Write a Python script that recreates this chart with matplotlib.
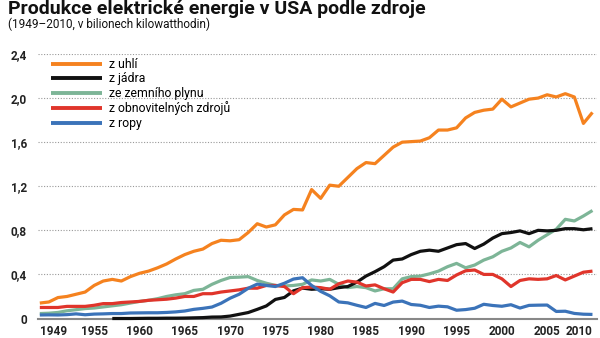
import numpy as np
import matplotlib.pyplot as plt

years = np.arange(1949, 2011)

# bilion kWh, 1949-2010
coal = [
    0.14, 0.15, 0.19, 0.20, 0.22, 0.24, 0.30, 0.34, 0.355, 0.34,
    0.38, 0.41, 0.43, 0.46, 0.495, 0.54, 0.58, 0.61, 0.63, 0.68,
    0.71, 0.705, 0.715, 0.78, 0.86, 0.83, 0.85, 0.94, 0.99, 0.985,
    1.17, 1.09, 1.21, 1.20, 1.28, 1.36, 1.415, 1.405, 1.48, 1.555,
    1.60, 1.605, 1.61, 1.64, 1.71, 1.71, 1.73, 1.82, 1.87, 1.89,
    1.90, 1.99, 1.92, 1.955, 1.99, 2.0, 2.03, 2.01, 2.04, 2.01,
    1.77, 1.87]

# jadro od 1957
nuclear = [np.nan] * 8 + [
    0.0, 0.0, 0.0, 0.001, 0.002, 0.002, 0.003, 0.003, 0.004, 0.006,
    0.008, 0.013, 0.014, 0.022, 0.038, 0.054, 0.083, 0.114, 0.173, 0.191,
    0.251, 0.276, 0.265, 0.27, 0.265, 0.28, 0.29, 0.33, 0.385, 0.425,
    0.47, 0.53, 0.54, 0.58, 0.61, 0.62, 0.61, 0.64, 0.67, 0.68,
    0.635, 0.675, 0.73, 0.77, 0.78, 0.795, 0.77, 0.80, 0.795, 0.80,
    0.815, 0.815, 0.805, 0.815]

gas = [
    0.045, 0.048, 0.055, 0.07, 0.08, 0.09, 0.095, 0.105, 0.115, 0.125,
    0.14, 0.155, 0.165, 0.18, 0.20, 0.215, 0.225, 0.255, 0.265, 0.31,
    0.345, 0.372, 0.375, 0.38, 0.345, 0.32, 0.30, 0.295, 0.30, 0.31,
    0.35, 0.34, 0.355, 0.31, 0.28, 0.29, 0.28, 0.25, 0.27, 0.27,
    0.36, 0.38, 0.385, 0.405, 0.43, 0.47, 0.50, 0.46, 0.485, 0.53,
    0.56, 0.61, 0.64, 0.69, 0.65, 0.71, 0.76, 0.81, 0.90, 0.885,
    0.93, 0.98]

renewables = [
    0.10, 0.10, 0.10, 0.11, 0.11, 0.11, 0.12, 0.135, 0.135, 0.145,
    0.15, 0.155, 0.165, 0.17, 0.175, 0.185, 0.20, 0.20, 0.225, 0.225,
    0.24, 0.25, 0.26, 0.275, 0.275, 0.30, 0.30, 0.29, 0.225, 0.28,
    0.285, 0.28, 0.265, 0.315, 0.34, 0.33, 0.295, 0.305, 0.27, 0.24,
    0.325, 0.355, 0.355, 0.335, 0.355, 0.345, 0.395, 0.433, 0.44, 0.40,
    0.40, 0.36, 0.29, 0.345, 0.36, 0.355, 0.36, 0.39, 0.35, 0.385,
    0.42, 0.43]

oil = [
    0.032, 0.033, 0.032, 0.035, 0.042, 0.034, 0.04, 0.042, 0.045, 0.045,
    0.05, 0.051, 0.052, 0.052, 0.055, 0.06, 0.068, 0.083, 0.092, 0.104,
    0.138, 0.184, 0.22, 0.274, 0.312, 0.30, 0.29, 0.32, 0.358, 0.37,
    0.30, 0.246, 0.206, 0.15, 0.142, 0.12, 0.10, 0.137, 0.118, 0.149,
    0.158, 0.127, 0.12, 0.10, 0.112, 0.106, 0.075, 0.081, 0.093, 0.129,
    0.118, 0.111, 0.125, 0.095, 0.119, 0.121, 0.122, 0.064, 0.066, 0.046,
    0.039, 0.037]

labels = ["z uhlí", "z jádra", "ze zemního plynu", "z obnovitelných zdrojů", "z ropy"]
colors = ["#F5821F", "#111111", "#7DB597", "#E0352B", "#3B73B9"]
xticks = [1949, 1955, 1960, 1965, 1970, 1975, 1980, 1985, 1990, 1995, 2000, 2005, 2010]
yticks = [0, 0.4, 0.8, 1.2, 1.6, 2.0, 2.4]
ytick_labels = ["0", "0,4", "0,8", "1,2", "1,6", "2,0", "2,4"]

plt.rcParams['font.family'] = ['Roboto', 'DejaVu Sans']

fig = plt.figure(figsize=(6, 3.38), dpi=100)
ax = fig.add_axes([38 / 600, 1 - 318.5 / 338, 559 / 600, 264.5 / 338])

series = [coal, nuclear, gas, renewables, oil]
zorders = [6, 4, 3, 5, 5]
for vals, lab, col, z in zip(series, labels, colors, zorders):
    ax.plot(years, vals, color=col, lw=2.3, label=lab, zorder=z,
            solid_capstyle='butt', clip_on=False)

ax.set_xlim(1948.8, 2010.5)
ax.set_ylim(0, 2.4)
ax.set_yticks(yticks)
ax.set_yticklabels(ytick_labels)
ax.set_xticks(xticks)
ax.set_xticklabels([str(x) for x in xticks])
for t in ax.get_yticklabels() + ax.get_xticklabels():
    t.set_fontweight('bold')
    t.set_fontsize(8.5)
    t.set_color('#222222')
xl = ax.get_xticklabels()
xl[0].set_horizontalalignment('left')
xl[-1].set_horizontalalignment('right')
ax.tick_params(axis='both', length=0)
ax.tick_params(axis='y', pad=8)
ax.tick_params(axis='x', pad=5)

for v in yticks[1:]:
    ax.axhline(v, color='#999999', lw=0.8, linestyle=(0, (1, 1.5)), zorder=1)
ax.axhline(0, color='#888888', lw=1.5, zorder=2, clip_on=False)

for s in ax.spines.values():
    s.set_visible(False)

leg = ax.legend(loc='upper left', bbox_to_anchor=(51 / 600, 1 - 58 / 338),
                bbox_transform=fig.transFigure, frameon=False, fontsize=8.8,
                handlelength=4.2, handletextpad=0.55, labelspacing=0.12,
                borderaxespad=0, borderpad=0)
for line in leg.get_lines():
    line.set_linewidth(2.8)

fig.text(8 / 600, 1 - 13.5 / 338, "Produkce elektrické energie v USA podle zdroje",
         fontsize=14, fontweight='bold', color='#111111', va='baseline')
fig.text(8 / 600, 1 - 28 / 338, "(1949–2010, v bilionech kilowatthodin)",
         fontsize=8.5, color='#111111', va='baseline')

fig.savefig("out.png", dpi=100)
